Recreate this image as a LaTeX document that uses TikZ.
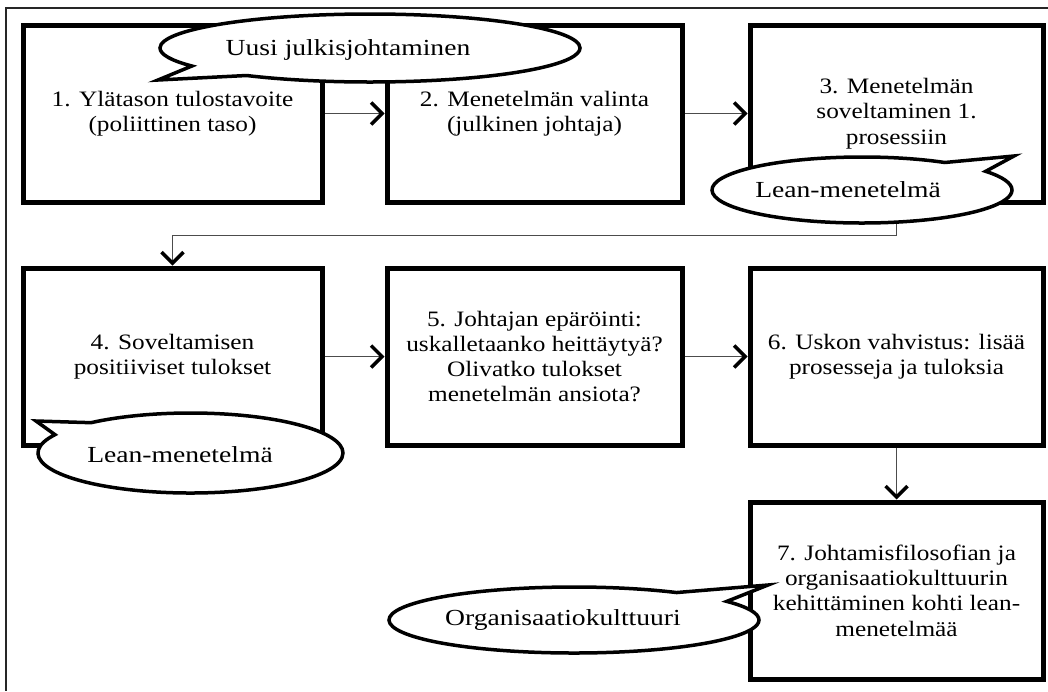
\documentclass[tikz,border=0pt]{standalone}
\usepackage{fontspec}
\setmainfont[FakeStretch=1.15]{Liberation Serif}
\newfontfamily\callfont[FakeStretch=1.2]{Liberation Serif}
\usetikzlibrary{shapes.callouts,shadows,arrows.meta}
\begin{document}
\begin{tikzpicture}[x=1pt,y=-1pt,
  stepbox/.style={draw=black, line width=5pt, fill=white, minimum height=177pt, inner sep=0pt, align=center,
    font=\fontsize{22}{25.3}\selectfont,
    drop shadow={shadow xshift=2pt, shadow yshift=-3pt, opacity=0.25}},
  callbub/.style={ellipse callout, draw=black, line width=3.5pt, fill=white, inner sep=0pt, callout pointer arc=22},
  calltext/.style={font=\callfont\fontsize{23}{26}\selectfont, anchor=base, inner sep=0pt},
  conn/.style={draw=black!70, line width=1.5pt, -{Straight Barb[length=11pt,width=22pt,line width=3.5pt,color=black]}},
  frame/.style={draw=black!85, line width=1.5pt}
]
\useasboundingbox (0,0) rectangle (1048,691);
\fill[white] (0,0) rectangle (1048,691);
\draw[frame] (1048,8) -- (6,8) -- (6,691);

% row 1
\node[stepbox, minimum width=299pt] (b1) at (172.5,113.5) {1. Ylätason tulostavoite\\(poliittinen taso)};
\node[stepbox, minimum width=295pt] (b2) at (534.5,113.5) {2. Menetelmän valinta\\(julkinen johtaja)};
\node[stepbox, minimum width=293pt] (b3) at (896.5,113.5) {3. Menetelmän\\soveltaminen 1.\\prosessiin};
% row 2
\node[stepbox, minimum width=299pt] (b4) at (172.5,356.5) {4. Soveltamisen\\positiiviset tulokset};
\node[stepbox, minimum width=295pt] (b5) at (534.5,356.5) {5. Johtajan epäröinti:\\uskalletaanko heittäytyä?\\Olivatko tulokset\\menetelmän ansiota?};
\node[stepbox, minimum width=293pt] (b6) at (896.5,356.5) {6. Uskon vahvistus: lisää\\prosesseja ja tuloksia};
% row 3
\node[stepbox, minimum width=293pt] (b7) at (896.5,590.5) {7. Johtamisfilosofian ja\\organisaatiokulttuurin\\kehittäminen kohti lean-\\menetelmää};

% connectors
\draw[conn] (b1.east) -- (b2.west);
\draw[conn] (b2.east) -- (b3.west);
\draw[conn] (b3.south) -- ++(0,31) -| (b4.north);
\draw[conn] (b4.east) -- (b5.west);
\draw[conn] (b5.east) -- (b6.west);
\draw[conn] (b6.south) -- (b7.north);

% callouts
\node[callbub, minimum width=420pt, minimum height=68pt, callout absolute pointer={(158,80)}] (c1) at (370,48) {};
\node[calltext] (t1) at (348,55) {Uusi julkisjohtaminen};

\node[callbub, minimum width=300pt, minimum height=66pt, callout absolute pointer={(1014,156)}] (c2) at (862,190) {};
\node[calltext] (t2) at (848,197) {Lean-menetelmä};

\node[callbub, minimum width=305pt, minimum height=80pt, callout absolute pointer={(36,421)}] (c3) at (190.5,453) {};
\node[calltext] (t3) at (180,462) {Lean-menetelmä};

\node[callbub, minimum width=370pt, minimum height=66pt, callout absolute pointer={(768,585)}] (c4) at (574,620) {};
\node[calltext] (t4) at (563,625) {Organisaatiokulttuuri};
\end{tikzpicture}
\end{document}
